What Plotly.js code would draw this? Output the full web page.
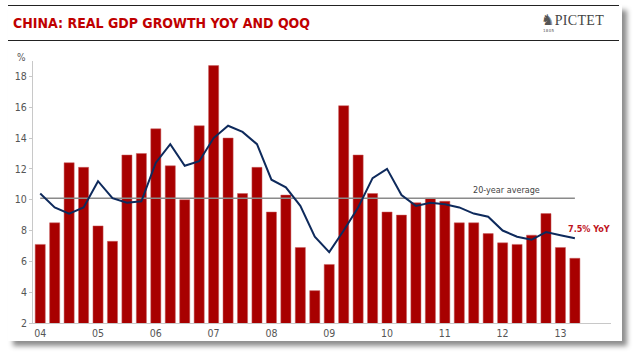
<!DOCTYPE html>
<html>
<head>
<meta charset="utf-8">
<script src="https://cdn.plot.ly/plotly-3.0.1.min.js"></script>
<style>
  html, body { margin:0; padding:0; background:#ffffff; width:640px; height:357px; overflow:hidden; }
  #card { position:absolute; left:8px; top:5px; width:614px; height:336px; background:#ffffff;
          box-shadow: 5px 5px 5px rgba(0,0,0,0.45); }
  .rule { position:absolute; left:8px; width:611px; height:0; border-top:1.5px solid #222; }
  #logo { position:absolute; left:541px; top:11px; font-family:"Liberation Serif","DejaVu Serif",serif;
          font-size:14px; color:#444; letter-spacing:0.3px; white-space:nowrap; }
  #logo .lion { font-family:"DejaVu Sans",sans-serif; font-size:15px; color:#555; }
  #logo .year { position:absolute; left:2px; top:17px; font-size:4px; color:#555; font-family:"DejaVu Sans",sans-serif; }
  #chart { position:absolute; left:0; top:0; width:640px; height:357px; }
</style>
</head>
<body>
<div id="card"></div>
<div class="rule" style="top:5px;"></div>
<div class="rule" style="top:40px;"></div>
<div id="logo"><span class="lion">&#9822;</span>PICTET<span class="year">1805</span></div>
<div id="chart"></div>
<script>
// ---- data ----
const quarters = [
  "2004Q1","2004Q2","2004Q3","2004Q4",
  "2005Q1","2005Q2","2005Q3","2005Q4",
  "2006Q1","2006Q2","2006Q3","2006Q4",
  "2007Q1","2007Q2","2007Q3","2007Q4",
  "2008Q1","2008Q2","2008Q3","2008Q4",
  "2009Q1","2009Q2","2009Q3","2009Q4",
  "2010Q1","2010Q2","2010Q3","2010Q4",
  "2011Q1","2011Q2","2011Q3","2011Q4",
  "2012Q1","2012Q2","2012Q3","2012Q4",
  "2013Q1","2013Q2"
];
const qoqGrowth = [
  7.1, 8.5, 12.4, 12.1,
  8.3, 7.3, 12.9, 13.0,
  14.6, 12.2, 10.0, 14.8,
  18.7, 14.0, 10.4, 12.1,
  9.2, 10.3, 6.9, 4.1,
  5.8, 16.1, 12.9, 10.4,
  9.2, 9.0, 9.8, 10.1,
  9.9, 8.5, 8.5, 7.8,
  7.2, 7.1, 7.7, 9.1,
  6.9, 6.2
];
const yoyGrowth = [
  10.4, 9.5, 9.1, 9.5,
  11.2, 10.1, 9.8, 9.9,
  12.4, 13.6, 12.2, 12.5,
  14.0, 14.8, 14.4, 13.6,
  11.3, 10.8, 9.6, 7.6,
  6.6, 8.0, 9.5, 11.4,
  12.0, 10.3, 9.6, 9.8,
  9.7, 9.5, 9.1, 8.9,
  8.0, 7.6, 7.4, 7.9,
  7.7, 7.5
];
const avg20y = 10.1;
const yearTickQuarters = ["2004Q1","2005Q1","2006Q1","2007Q1","2008Q1","2009Q1","2010Q1","2011Q1","2012Q1","2013Q1"];
const yearTickLabels = ["04","05","06","07","08","09","10","11","12","13"];
const yearBoundaries = [-0.5,3.5,7.5,11.5,15.5,19.5,23.5,27.5,31.5,35.5,39.5];
const yTicks = [2,4,6,8,10,12,14,16,18];

const FONT = '"Liberation Sans Narrow","DejaVu Sans Condensed","Arial Narrow",sans-serif';

const traces = [
  { type:'bar', x:quarters, y:qoqGrowth, name:'QoQ',
    marker:{ color:'#a80000', line:{ color:'#c86060', width:0.5 } },
    hoverinfo:'x+y' },
  { type:'scatter', mode:'lines', x:[quarters[0], quarters[quarters.length-1]], y:[avg20y, avg20y],
    line:{ color:'#8a8a8a', width:1.5 }, name:'20-year average' },
  { type:'scatter', mode:'lines', x:quarters, y:yoyGrowth, name:'YoY',
    line:{ color:'#0e2a5c', width:2 } }
];

const layout = {
  width:640, height:357,
  margin:{ l:33, r:29, t:60.5, b:34 },
  paper_bgcolor:'rgba(0,0,0,0)', plot_bgcolor:'rgba(0,0,0,0)',
  showlegend:false,
  bargap:0.3,
  font:{ family:FONT, size:11, color:'#555' },
  title:{ text:'<b>CHINA: REAL GDP GROWTH YOY AND QOQ</b>',
          font:{ family:FONT, size:14, color:'#c00000' },
          x:13/640, xanchor:'left', xref:'container',
          y:1-23/357, yanchor:'middle', yref:'container' },
  xaxis:{ type:'category', range:[-0.5,39.5], tickmode:'array',
          tickvals:yearTickQuarters, ticktext:yearTickLabels,
          ticks:'', showgrid:false, zeroline:false,
          showline:true, linecolor:'#c8c8c8', linewidth:1,
          tickfont:{ family:FONT, size:10.5, color:'#555' } },
  xaxis2:{ overlaying:'x', anchor:'y', side:'bottom', type:'linear', range:[-0.5,39.5],
           tickmode:'array', tickvals:yearBoundaries, showticklabels:false,
           ticks:'outside', ticklen:4, tickcolor:'#bbbbbb', tickwidth:1,
           showgrid:false, zeroline:false, showline:false },
  yaxis:{ range:[2,19], tickmode:'array', tickvals:yTicks,
          ticks:'outside', ticklen:3, tickcolor:'#c8c8c8',
          showgrid:false, zeroline:false, showline:true, linecolor:'#c8c8c8', linewidth:1,
          tickfont:{ family:FONT, size:10.5, color:'#555' } },
  annotations:[
    { text:'%', xref:'paper', yref:'paper', x:0, y:1, xanchor:'right', yanchor:'bottom',
      xshift:-5, yshift:-4, showarrow:false, font:{ family:FONT, size:10, color:'#555' } },
    { text:'20-year average', xref:'x', yref:'y', x:32.3, y:avg20y, xanchor:'center', yanchor:'bottom',
      yshift:1, showarrow:false, font:{ family:FONT, size:9, color:'#444' } },
    { text:'<b>7.5% YoY</b>', xref:'x', yref:'y', x:36.4, y:8.1, xanchor:'left', yanchor:'middle',
      showarrow:false, font:{ family:FONT, size:9, color:'#c0141e' } }
  ]
};

Plotly.newPlot('chart', traces, layout, { displayModeBar:false, staticPlot:true });
</script>
</body>
</html>
